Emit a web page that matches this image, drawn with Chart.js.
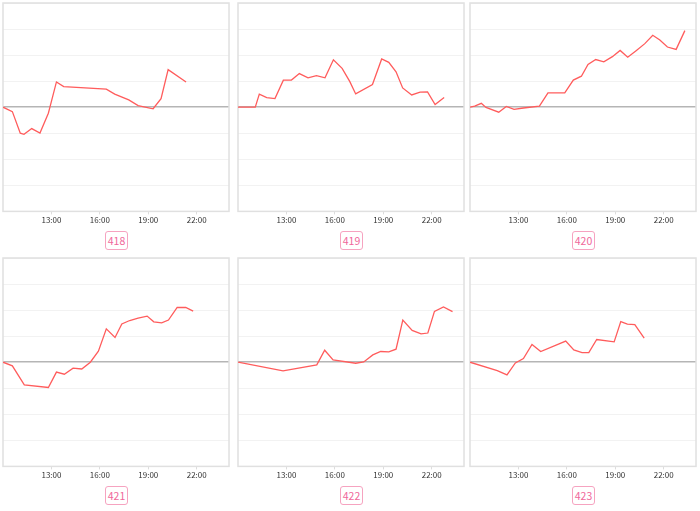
<!DOCTYPE html>
<html>
<head>
<meta charset="utf-8">
<script src="https://cdn.jsdelivr.net/npm/chart.js@4.4.1/dist/chart.umd.min.js"></script>
<style>
  body { margin: 0; background: #fff; width: 700px; height: 511px; overflow: hidden; position: relative; font-family: "Noto Sans CJK SC", "Noto Sans", sans-serif; }
  .cell { position: absolute; width: 232px; height: 250px; }
  .cell canvas { position: absolute; left: 0; top: 0; }
  .tag { position: absolute; top: 231px; left: 105px; width: 21px; height: 17px; line-height: 17px; border: 1px solid #f6a3c0; border-radius: 3px; color: #f0679a; font-size: 10.5px; text-align: center; }
</style>
</head>
<body>
<script>
// numeros dos paineis
const panelLabels = ['418', '419', '420', '421', '422', '423'];
const tickHours = [13, 16, 19, 22];

// horas (decimal) e variacao de cada painel
const hours418 = [10.0, 10.58, 11.07, 11.3, 11.78, 12.29, 12.81, 13.31, 13.76, 16.4, 16.92, 17.79, 18.37, 19.3, 19.79, 20.23, 21.34];
const values418 = [0, -0.17, -1.0, -1.04, -0.82, -0.99, -0.23, 0.97, 0.79, 0.69, 0.5, 0.28, 0.06, -0.06, 0.33, 1.44, 0.97];

const hours419 = [10.0, 11.07, 11.32, 11.78, 12.29, 12.81, 13.31, 13.8, 14.34, 14.86, 15.39, 15.91, 16.45, 16.92, 17.29, 18.33, 18.9, 19.34, 19.79, 20.2, 20.76, 21.28, 21.74, 22.21, 22.77];
const values419 = [0, 0, 0.5, 0.37, 0.33, 1.04, 1.04, 1.29, 1.13, 1.21, 1.13, 1.82, 1.49, 0.99, 0.51, 0.87, 1.85, 1.72, 1.36, 0.74, 0.47, 0.58, 0.59, 0.1, 0.37];

const hours420 = [10.0, 10.29, 10.7, 10.99, 11.78, 12.25, 12.73, 13.31, 14.3, 14.83, 15.87, 16.4, 16.9, 17.31, 17.79, 18.29, 18.82, 19.3, 19.77, 20.29, 20.83, 21.32, 21.76, 22.23, 22.77, 23.31];
const values420 = [0, 0.04, 0.15, -0.01, -0.19, 0.03, -0.08, -0.03, 0.04, 0.55, 0.55, 1.04, 1.19, 1.64, 1.83, 1.74, 1.94, 2.18, 1.92, 2.17, 2.44, 2.76, 2.58, 2.31, 2.22, 2.94];

const hours421 = [10.0, 10.58, 11.32, 12.81, 13.31, 13.8, 14.34, 14.88, 15.41, 15.91, 16.4, 16.94, 17.36, 17.85, 18.37, 18.93, 19.34, 19.83, 20.25, 20.79, 21.32, 21.78];
const values421 = [0, -0.14, -0.87, -0.97, -0.38, -0.46, -0.23, -0.26, 0, 0.42, 1.28, 0.95, 1.47, 1.6, 1.69, 1.77, 1.55, 1.51, 1.62, 2.1, 2.1, 1.96];

const hours422 = [10.0, 12.79, 14.88, 15.37, 15.89, 17.29, 17.79, 18.35, 18.84, 19.34, 19.79, 20.21, 20.79, 21.34, 21.76, 22.17, 22.73, 23.29];
const values422 = [0, -0.33, -0.1, 0.46, 0.09, -0.04, 0.01, 0.28, 0.41, 0.4, 0.5, 1.62, 1.22, 1.09, 1.12, 1.95, 2.12, 1.94];

const hours423 = [10.0, 11.69, 12.29, 12.81, 13.31, 13.84, 14.38, 15.93, 16.43, 16.94, 17.36, 17.85, 18.93, 19.34, 19.75, 20.21, 20.79];
const values423 = [0, -0.32, -0.49, -0.03, 0.14, 0.68, 0.41, 0.81, 0.47, 0.37, 0.37, 0.87, 0.78, 1.56, 1.46, 1.44, 0.92];

const allHours = [hours418, hours419, hours420, hours421, hours422, hours423];
const allValues = [values418, values419, values420, values421, values422, values423];

// posicao de cada celula na pagina
const cellLeft = [0, 235, 467];
const cellTop = [0, 255];

// moldura cinza em volta da area do grafico
const framePlugin = {
  id: 'frame',
  beforeDatasetsDraw(chart) {
    const { ctx, chartArea: a } = chart;
    ctx.save();
    ctx.strokeStyle = '#e0e0e0';
    ctx.lineWidth = 1.5;
    ctx.strokeRect(a.left, a.top, a.right - a.left, a.bottom - a.top);
    ctx.restore();
  }
};

panelLabels.forEach((label, i) => {
  const cell = document.createElement('div');
  cell.className = 'cell';
  cell.style.left = cellLeft[i % 3] + 'px';
  cell.style.top = cellTop[Math.floor(i / 3)] + 'px';

  const canvas = document.createElement('canvas');
  canvas.width = 232;
  canvas.height = 226;
  cell.appendChild(canvas);

  const tag = document.createElement('div');
  tag.className = 'tag';
  tag.textContent = label;
  cell.appendChild(tag);
  document.body.appendChild(cell);

  const points = allHours[i].map((h, k) => ({ x: h, y: allValues[i][k] }));

  new Chart(canvas.getContext('2d'), {
    type: 'line',
    data: {
      datasets: [{
        data: points,
        borderColor: '#ff5c5c',
        borderWidth: 1.3,
        pointRadius: 0,
        tension: 0,
        fill: false
      }]
    },
    options: {
      responsive: false,
      animation: false,
      layout: { padding: { left: 3, right: 3, top: 3, bottom: 0 } },
      plugins: { legend: { display: false }, tooltip: { enabled: false } },
      scales: {
        x: {
          type: 'linear',
          min: 10,
          max: 24,
          afterBuildTicks: scale => { scale.ticks = tickHours.map(v => ({ value: v })); },
          ticks: {
            callback: v => v + ':00',
            font: { family: '"Noto Sans CJK SC", sans-serif', size: 8 },
            color: '#333',
            padding: 1,
            maxRotation: 0
          },
          grid: { drawOnChartArea: false, tickLength: 3, color: '#dcdcdc' },
          border: { display: false }
        },
        y: {
          min: -4,
          max: 4,
          ticks: { stepSize: 1, display: false },
          grid: {
            drawTicks: false,
            color: ctx => ctx.tick && ctx.tick.value === 0 ? '#b5b5b5' : '#f2f2f2',
            lineWidth: ctx => ctx.tick && ctx.tick.value === 0 ? 1.5 : 1
          },
          border: { display: false }
        }
      }
    },
    plugins: [framePlugin]
  });
});
</script>
</body>
</html>
